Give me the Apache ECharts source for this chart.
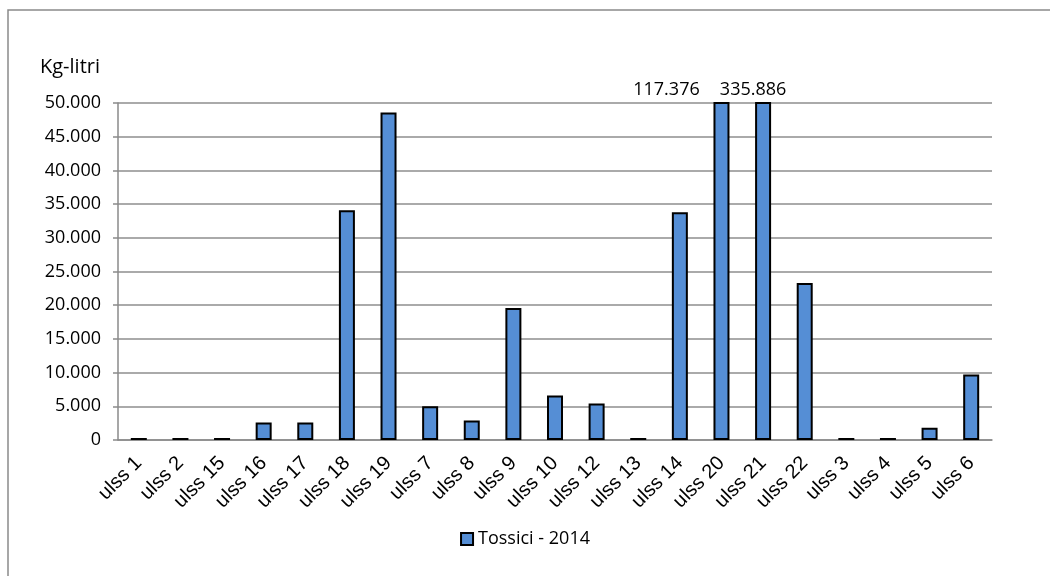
<!DOCTYPE html>
<html>
<head>
<meta charset="utf-8">
<script src="https://cdn.jsdelivr.net/npm/echarts@6/dist/echarts.min.js"></script>
<style>
  html, body { margin: 0; padding: 0; background: #fff; }
  #chartBox { width: 1050px; height: 576px; }
</style>
</head>
<body>
<div id="chartBox"></div>
<script>
// categorie (ordine come nel grafico originale)
const categories = ['ulss 1', 'ulss 2', 'ulss 15', 'ulss 16', 'ulss 17', 'ulss 18', 'ulss 19',
  'ulss 7', 'ulss 8', 'ulss 9', 'ulss 10', 'ulss 12', 'ulss 13', 'ulss 14', 'ulss 20',
  'ulss 21', 'ulss 22', 'ulss 3', 'ulss 4', 'ulss 5', 'ulss 6'];
// valori Kg-litri - 2014
const tossici2014 = [300, 300, 300, 2600, 2600, 34100, 48600,
  5000, 2900, 19600, 6600, 5400, 300, 33800, 117376,
  335886, 23300, 300, 300, 1800, 9700];
const seriesName = 'Tossici - 2014';
const yMax = 50000;
const yStep = 5000;
// spostamento etichette dei valori fuori scala
const labelShift = { 'ulss 20': -55, 'ulss 21': -10 };

// formato italiano: 50.000
function fmt(v) {
  return String(v).replace(/\B(?=(\d{3})+(?!\d))/g, '.');
}

let seriesData = tossici2014.map(function (v, i) {
  let item = { value: v };
  if (v > yMax) {
    item.label = { show: true, offset: [labelShift[categories[i]] || 0, 0] };
  }
  return item;
});

let myChart = echarts.init(document.getElementById('chartBox'));
let option = {
  backgroundColor: '#fff',
  animation: false,
  textStyle: { fontFamily: 'Open Sans' },
  graphic: [{
    type: 'rect',
    shape: { x: 8, y: 10, width: 1200, height: 800 },
    style: { fill: 'none', stroke: '#8a8a8a', lineWidth: 1.5 },
    silent: true
  }],
  grid: { left: 118, right: 58, top: 103, bottom: 136 },
  legend: {
    bottom: 23,
    left: 'center',
    icon: 'rect',
    itemWidth: 12,
    itemHeight: 12,
    itemGap: 8,
    textStyle: { color: '#000', fontSize: 18, fontFamily: 'Open Sans' },
    data: [seriesName]
  },
  xAxis: {
    type: 'category',
    data: categories,
    axisLine: { lineStyle: { color: '#8a8a8a', width: 1.5 } },
    axisTick: { length: 6, lineStyle: { color: '#8a8a8a', width: 1.5 } },
    axisLabel: {
      rotate: 45,
      interval: 0,
      color: '#000',
      fontSize: 20,
      fontFamily: 'Liberation Sans',
      margin: 20
    }
  },
  yAxis: {
    type: 'value',
    min: 0,
    max: yMax,
    interval: yStep,
    name: 'Kg-litri',
    nameLocation: 'end',
    nameGap: 36,
    nameTextStyle: {
      color: '#000', fontSize: 20, fontFamily: 'Open Sans',
      align: 'right', verticalAlign: 'middle', padding: [0, 18, 0, 0]
    },
    axisLine: { show: true, lineStyle: { color: '#8a8a8a', width: 1.5 } },
    axisTick: { show: true, length: 5, lineStyle: { color: '#8a8a8a', width: 1.5 } },
    axisLabel: {
      color: '#000', fontSize: 18, fontFamily: 'Open Sans', margin: 17,
      formatter: fmt
    },
    splitLine: { lineStyle: { color: '#8e8e8e', width: 1.5 } }
  },
  series: [{
    name: seriesName,
    type: 'bar',
    barWidth: 16,
    clip: true,
    data: seriesData,
    itemStyle: { color: '#558ED5', borderColor: '#000', borderWidth: 2 },
    label: {
      show: false,
      position: 'top',
      distance: 3,
      color: '#000',
      fontSize: 18,
      fontFamily: 'Open Sans',
      formatter: function (p) { return fmt(p.value); }
    }
  }]
};
myChart.setOption(option, true);
</script>
</body>
</html>
